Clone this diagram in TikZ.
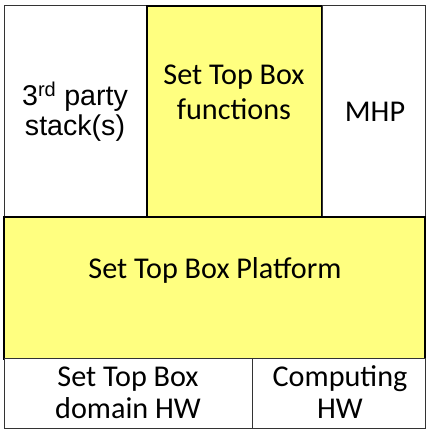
\documentclass[tikz,border=0pt]{standalone}
\usepackage{fontspec}
\setmainfont{Carlito}
\newfontfamily\arialfont{Liberation Sans}
\definecolor{stbyellow}{RGB}{255,255,128}
\begin{document}
\begin{tikzpicture}[x=1pt,y=1pt,
  wbox/.style={draw=black!80, line width=1pt, fill=white, inner sep=0pt},
  ybox/.style={draw=black, line width=1.6pt, fill=stbyellow, inner sep=0pt},
  cal/.style={anchor=base, inner sep=0pt, font=\fontsize{30.2}{34}\selectfont},
  ari/.style={anchor=base, inner sep=0pt, font=\arialfont\fontsize{28.6}{32}\selectfont}]
\useasboundingbox (0,0) rectangle (427,430);
% top row
\node[wbox, minimum width=142, minimum height=211] (third) at (75,318.5) {};
\node[ybox, minimum width=175, minimum height=211] (func) at (234.5,318.5) {};
\node[wbox, minimum width=103, minimum height=211] (mhp) at (373.5,318.5) {};
% platform
\node[ybox, minimum width=421, minimum height=142] (plat) at (214.5,142) {};
% bottom row
\node[wbox, minimum width=248, minimum height=70] (dom) at (128,36) {};
\node[wbox, minimum width=173, minimum height=70] (comp) at (338.5,36) {};
% texts
\node[ari] (t1a) at (75,324) {3\textsuperscript{rd} party};
\node[ari] (t1b) at (75,294) {stack(s)};
\node[cal] (t2a) at (234,345) {Set Top Box};
\node[cal] (t2b) at (234,310) {functions};
\node[cal] (t3) at (375,308) {MHP};
\node[cal] (t4) at (215,151) {Set Top Box Platform};
\node[cal] (t5a) at (128,43) {Set Top Box};
\node[cal] (t5b) at (128,11) {domain HW};
\node[cal] (t6a) at (340,43) {Computing};
\node[cal] (t6b) at (340,11) {HW};
\end{tikzpicture}
\end{document}
